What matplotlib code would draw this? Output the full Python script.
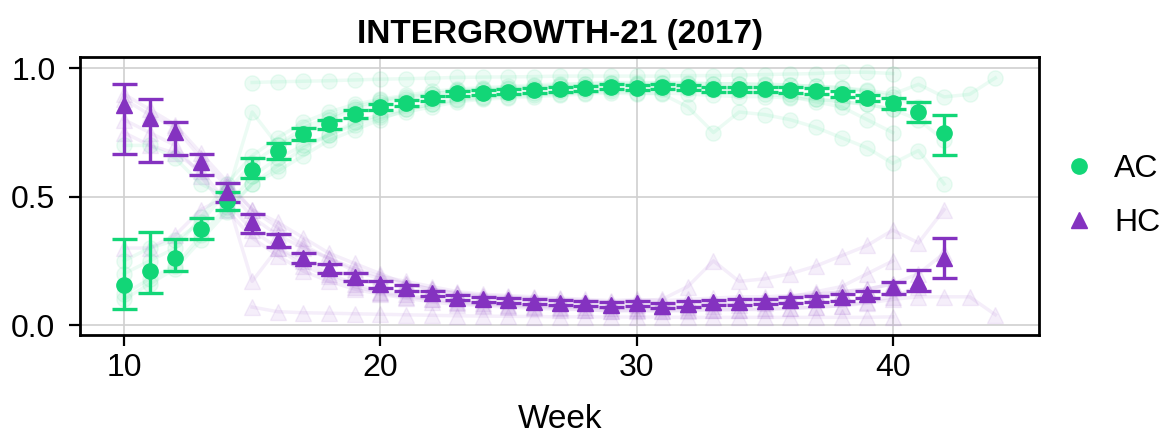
import matplotlib
matplotlib.use("Agg")
import matplotlib.pyplot as plt
from matplotlib.lines import Line2D
import numpy as np

plt.rcParams['font.family'] = ['Liberation Sans', 'DejaVu Sans']

# mean curves with confidence bounds, weeks 10-42
weeks = list(range(10, 43))

ac_mean = [0.156, 0.21, 0.26, 0.373, 0.485, 0.606, 0.678, 0.743, 0.783, 0.822, 0.850,
           0.864, 0.883, 0.903, 0.905, 0.909, 0.915, 0.918, 0.922, 0.928, 0.925, 0.928,
           0.926, 0.918, 0.918, 0.918, 0.915, 0.912, 0.900, 0.885, 0.864, 0.831, 0.749]
ac_lo = [0.064, 0.123, 0.212, 0.335, 0.448, 0.571, 0.648, 0.721, 0.765, 0.807, 0.837,
         0.852, 0.873, 0.893, 0.895, 0.899, 0.905, 0.908, 0.912, 0.918, 0.915, 0.918,
         0.916, 0.908, 0.908, 0.907, 0.904, 0.900, 0.888, 0.872, 0.840, 0.791, 0.661]
ac_hi = [0.334, 0.363, 0.335, 0.418, 0.519, 0.649, 0.708, 0.766, 0.800, 0.837, 0.863,
         0.876, 0.893, 0.913, 0.915, 0.919, 0.925, 0.928, 0.932, 0.938, 0.935, 0.938,
         0.936, 0.928, 0.928, 0.929, 0.926, 0.924, 0.912, 0.898, 0.883, 0.868, 0.818]

hc_mean = [0.857, 0.805, 0.753, 0.636, 0.519, 0.402, 0.331, 0.26, 0.221, 0.188, 0.158,
           0.143, 0.123, 0.106, 0.101, 0.097, 0.091, 0.087, 0.084, 0.080, 0.084, 0.075,
           0.082, 0.088, 0.090, 0.092, 0.097, 0.102, 0.108, 0.120, 0.149, 0.173, 0.26]
hc_lo = [0.665, 0.635, 0.662, 0.584, 0.48, 0.357, 0.303, 0.24, 0.204, 0.173, 0.145,
         0.131, 0.113, 0.096, 0.091, 0.087, 0.081, 0.077, 0.074, 0.070, 0.074, 0.065,
         0.072, 0.078, 0.080, 0.081, 0.086, 0.090, 0.095, 0.106, 0.121, 0.134, 0.184]
hc_hi = [0.940, 0.879, 0.792, 0.666, 0.554, 0.432, 0.353, 0.28, 0.238, 0.203, 0.171,
         0.155, 0.133, 0.116, 0.111, 0.107, 0.101, 0.097, 0.094, 0.090, 0.094, 0.085,
         0.092, 0.098, 0.100, 0.103, 0.108, 0.114, 0.121, 0.134, 0.169, 0.214, 0.340]

# faint individual curves: (first week, values)
ac_faint = [
    (15, [0.945, 0.948, 0.950, 0.952, 0.955, 0.958, 0.960, 0.962, 0.965, 0.966, 0.967, 0.968, 0.970,
          0.970, 0.970, 0.970, 0.970, 0.972, 0.972, 0.974, 0.976, 0.978, 0.980, 0.985, 0.985, 0.980]),
    (10, [0.20, 0.25, 0.30, 0.42, 0.55, 0.66, 0.73, 0.79, 0.83, 0.86, 0.88, 0.895, 0.91, 0.92, 0.925,
          0.93, 0.935, 0.94, 0.94, 0.945, 0.945, 0.945, 0.94, 0.94, 0.94, 0.94, 0.935, 0.93, 0.925,
          0.915, 0.90, 0.938, 0.889, 0.899, 0.963]),
    (10, [0.10, 0.16, 0.22, 0.33, 0.44, 0.55, 0.62, 0.69, 0.74, 0.79, 0.82, 0.84, 0.86, 0.875, 0.885,
          0.89, 0.895, 0.90, 0.905, 0.91, 0.905, 0.90, 0.85, 0.75, 0.83, 0.82, 0.80, 0.77, 0.73, 0.69,
          0.63, 0.68, 0.55]),
    (10, [0.70, 0.70, 0.65, 0.55, 0.50, 0.83, 0.70, 0.75, 0.80, 0.84, 0.87, 0.88, 0.90, 0.91, 0.915,
          0.92, 0.925, 0.93, 0.93, 0.935, 0.935, 0.93, 0.93, 0.925, 0.92, 0.915, 0.90, 0.88, 0.87,
          0.86, 0.84]),
    (10, [0.12, 0.18, 0.23, 0.35, 0.46, 0.58, 0.65, 0.70, 0.74, 0.78, 0.81, 0.83, 0.85, 0.87, 0.88,
          0.885, 0.89, 0.895, 0.90, 0.905, 0.90, 0.905, 0.90, 0.895, 0.89, 0.89, 0.885, 0.88, 0.87,
          0.86, 0.84, 0.80, 0.72]),
    (10, [0.25, 0.30, 0.33, 0.40, 0.52, 0.63, 0.70, 0.77, 0.81, 0.85, 0.875, 0.89, 0.90, 0.915, 0.92,
          0.925, 0.93, 0.935, 0.94, 0.945, 0.94, 0.945, 0.945, 0.94, 0.94, 0.935, 0.935, 0.93, 0.925,
          0.91, 0.89, 0.85]),
    (14, [0.45, 0.55, 0.60, 0.66, 0.72, 0.76, 0.80, 0.84, 0.86, 0.88, 0.89, 0.90, 0.905, 0.91, 0.915,
          0.92, 0.92, 0.92, 0.92, 0.915, 0.91, 0.90, 0.89, 0.87, 0.85, 0.80, 0.75]),
]
hc_faint = [
    (15, [0.07, 0.052, 0.048, 0.046, 0.044, 0.042, 0.040, 0.038, 0.036, 0.035, 0.034, 0.033, 0.032,
          0.032, 0.031, 0.031, 0.031, 0.030, 0.030, 0.030, 0.030, 0.030, 0.030, 0.030, 0.030, 0.032]),
    (10, [0.80, 0.75, 0.70, 0.58, 0.45, 0.34, 0.27, 0.21, 0.17, 0.14, 0.12, 0.105, 0.09, 0.08, 0.075,
          0.07, 0.065, 0.06, 0.06, 0.055, 0.055, 0.055, 0.06, 0.06, 0.06, 0.06, 0.065, 0.07, 0.075,
          0.085, 0.10, 0.11, 0.11, 0.11, 0.04]),
    (10, [0.90, 0.84, 0.78, 0.67, 0.56, 0.45, 0.38, 0.31, 0.26, 0.21, 0.18, 0.16, 0.14, 0.125, 0.115,
          0.11, 0.105, 0.10, 0.095, 0.09, 0.095, 0.10, 0.15, 0.25, 0.17, 0.18, 0.20, 0.23, 0.27, 0.31,
          0.37, 0.32, 0.45]),
    (10, [0.30, 0.30, 0.35, 0.45, 0.50, 0.17, 0.30, 0.25, 0.20, 0.16, 0.13, 0.12, 0.10, 0.09, 0.085,
          0.08, 0.075, 0.07, 0.07, 0.065, 0.065, 0.07, 0.07, 0.075, 0.08, 0.085, 0.10, 0.12, 0.13,
          0.14, 0.16]),
    (10, [0.88, 0.82, 0.77, 0.65, 0.54, 0.42, 0.35, 0.30, 0.26, 0.22, 0.19, 0.17, 0.15, 0.13, 0.12,
          0.115, 0.11, 0.105, 0.10, 0.095, 0.10, 0.095, 0.10, 0.105, 0.11, 0.11, 0.115, 0.12, 0.13,
          0.14, 0.16, 0.20, 0.28]),
    (10, [0.75, 0.70, 0.67, 0.60, 0.48, 0.37, 0.30, 0.23, 0.19, 0.15, 0.125, 0.11, 0.10, 0.085, 0.08,
          0.075, 0.07, 0.065, 0.06, 0.055, 0.06, 0.055, 0.055, 0.06, 0.06, 0.065, 0.065, 0.07, 0.075,
          0.09, 0.11, 0.15]),
    (14, [0.55, 0.45, 0.40, 0.34, 0.28, 0.24, 0.20, 0.16, 0.14, 0.12, 0.11, 0.10, 0.095, 0.09, 0.085,
          0.08, 0.08, 0.08, 0.08, 0.085, 0.09, 0.10, 0.11, 0.13, 0.15, 0.20, 0.25]),
]

green = '#12d677'
purple = '#8432c0'

fig = plt.figure(figsize=(11.66, 4.34), dpi=100)
ax = fig.add_axes([0.069, 0.228, 0.822, 0.641])

# faint background curves
for start, vals in ac_faint:
    ax.plot(range(start, start + len(vals)), vals, color=green, marker='o', markersize=11,
            linewidth=2.5, alpha=0.08, zorder=1)
for start, vals in hc_faint:
    ax.plot(range(start, start + len(vals)), vals, color=purple, marker='^', markersize=11,
            linewidth=2.5, alpha=0.08, zorder=1)

# means with asymmetric error bars
for mean, lo, hi, col, mk in [(ac_mean, ac_lo, ac_hi, green, 'o'),
                              (hc_mean, hc_lo, hc_hi, purple, '^')]:
    m = np.array(mean)
    err = [m - np.array(lo), np.array(hi) - m]
    ax.errorbar(weeks, m, yerr=err, fmt=mk, color=col, markersize=11, elinewidth=2.4,
                capsize=9, capthick=2.4, zorder=3)

ax.set_xlim(8.3, 45.7)
ax.set_ylim(-0.039, 1.045)
ax.set_xticks([10, 20, 30, 40])
ax.set_yticks([0.0, 0.5, 1.0])
ax.set_yticklabels(['0.0', '0.5', '1.0'])
ax.grid(True, color='#d0d0d0', linewidth=1.2)
ax.set_axisbelow(True)
for s in ax.spines.values():
    s.set_linewidth(2)
ax.tick_params(axis='both', labelsize=23, length=8, width=1.6)
ax.tick_params(axis='x', pad=5)
ax.tick_params(axis='y', pad=10)
ax.set_xlabel('Week', fontsize=24, labelpad=15)
ax.set_title('INTERGROWTH-21 (2017)', fontsize=24, fontweight='bold', pad=10)

handles = [Line2D([], [], color=green, marker='o', linestyle='', markersize=11),
           Line2D([], [], color=purple, marker='^', linestyle='', markersize=11)]
ax.legend(handles, ['AC', 'HC'], loc='center left', bbox_to_anchor=(1.0, 0.5), frameon=False,
          fontsize=23, handlelength=1.0, handletextpad=0.6, labelspacing=0.75,
          borderaxespad=0.35, borderpad=0.4)

fig.savefig('out.png', dpi=100)
